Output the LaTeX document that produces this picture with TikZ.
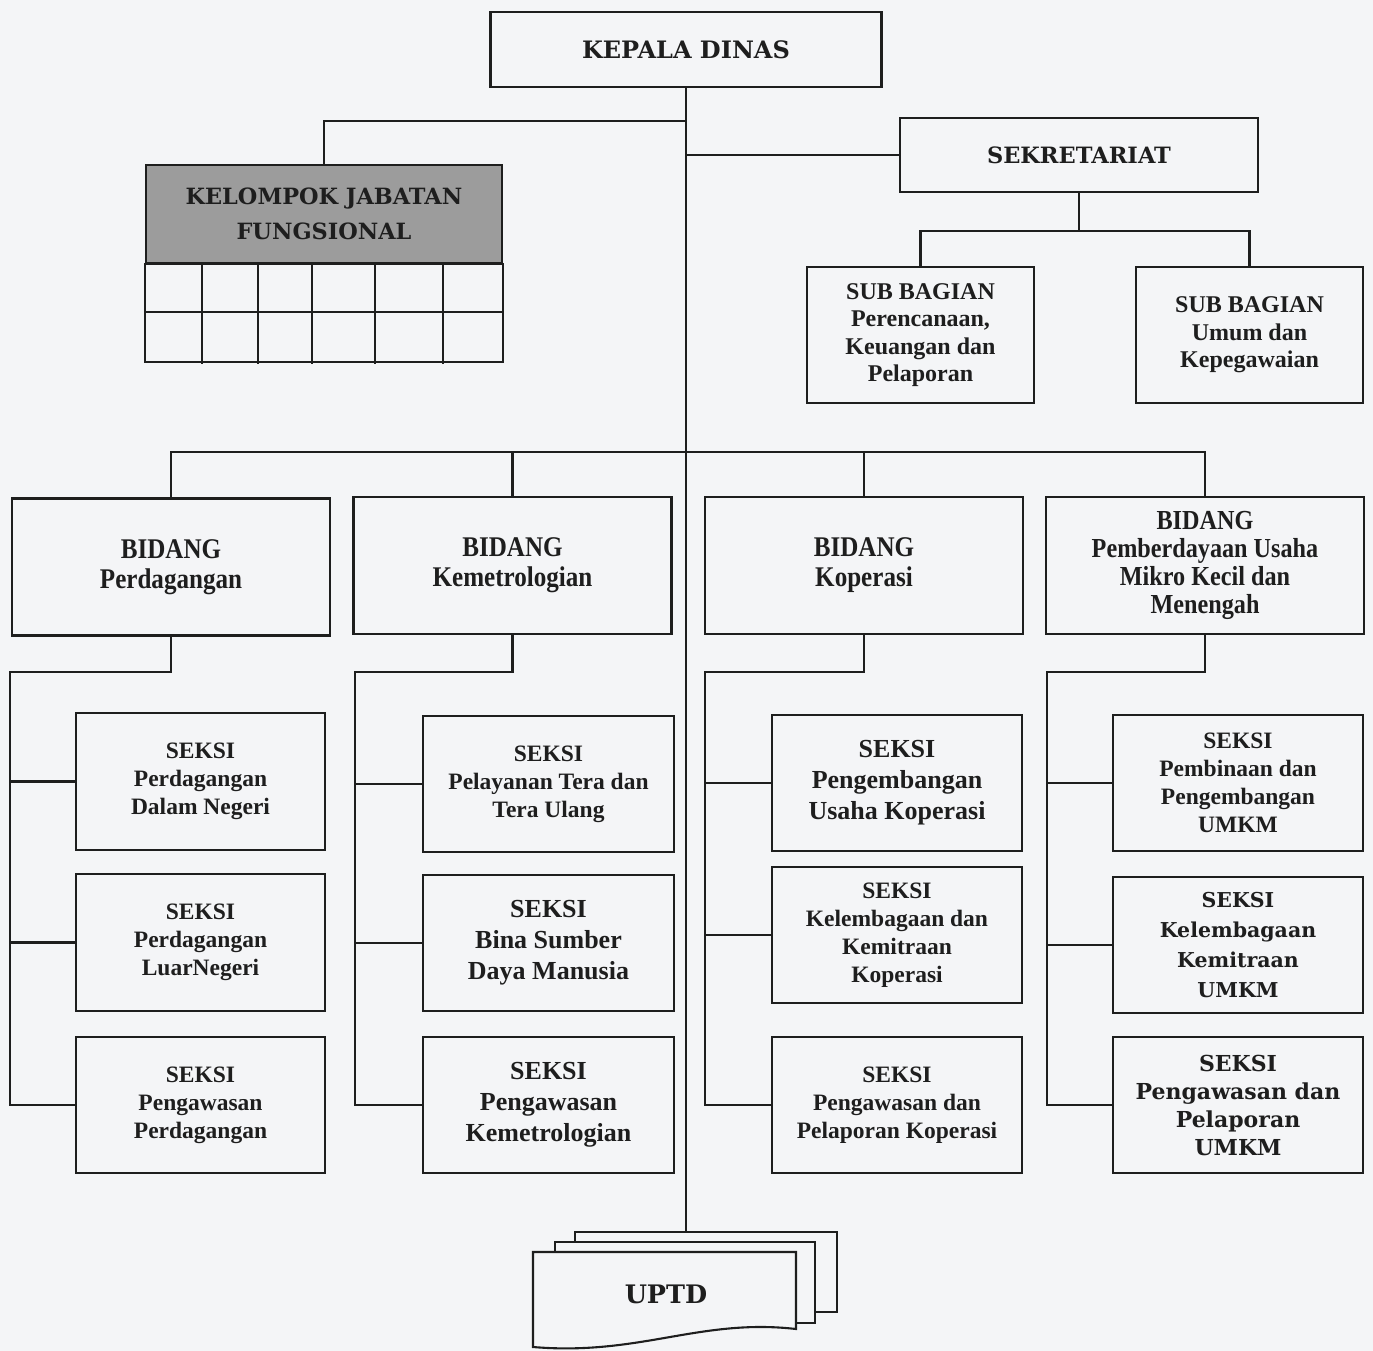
\documentclass[tikz,border=0pt]{standalone}
\usepackage{fontspec}
\setmainfont{Liberation Serif}
\newfontfamily\bookfont{DejaVu Serif}
\newfontfamily\narrowfont{Liberation Serif}[FakeStretch=0.88]
\usetikzlibrary{positioning}

\definecolor{paper}{HTML}{F4F5F7}
\definecolor{ink}{HTML}{1E1E1E}
\definecolor{kjfgray}{HTML}{9C9C9C}

% font sets used in the chart
\newcommand{\fsek}{\fontsize{23.5}{28}\selectfont\bfseries}
\newcommand{\fsekbig}{\fontsize{26}{31}\selectfont\bfseries}
\newcommand{\fsub}{\fontsize{24}{27.5}\selectfont\bfseries}
\newcommand{\fbid}{\narrowfont\fontsize{28.5}{30}\selectfont\bfseries}
\newcommand{\fbidsmall}{\narrowfont\fontsize{27.5}{28}\selectfont\bfseries}
\newcommand{\fbook}{\bookfont\fontsize{20.5}{30}\selectfont\bfseries}
\newcommand{\fbookbig}{\bookfont\fontsize{22}{28}\selectfont\bfseries}
\newcommand{\fsekre}{\bookfont\fontsize{22.5}{30}\selectfont\bfseries}
\newcommand{\fhead}{\bookfont\fontsize{24}{30}\selectfont\bfseries}
\newcommand{\fuptd}{\bookfont\fontsize{25.5}{30}\selectfont\bfseries}
\newcommand{\fkjf}{\bookfont\fontsize{22.4}{35}\selectfont\bfseries}

\begin{document}
\begin{tikzpicture}[
  x=1pt, y=-1pt,
  box/.style={draw=ink, line width=2.3pt, inner sep=0pt, align=center, text=ink},
  conn/.style={draw=ink, line width=2.1pt},
  bidang/.style={box, minimum width=318pt, minimum height=137pt, font=\fbid},
  seksi/.style={box, minimum width=250pt, minimum height=136pt, font=\fsek},
  subbag/.style={box, minimum width=227pt, minimum height=136pt, font=\fsub}
]
  \useasboundingbox (0,0) rectangle (1373,1351);
  \fill[paper] (0,0) rectangle (1373,1351);

  % top level
  \node[box, minimum width=391pt, minimum height=75pt, font=\fhead] (kadis) at (686,49.5) {KEPALA DINAS};
  \node[box, minimum width=358pt, minimum height=74pt, font=\fsekre] (sekre) at (1079,155) {SEKRETARIAT};
  \node[subbag] (sub1) at (920.5,335) {SUB BAGIAN\\Perencanaan,\\Keuangan dan\\Pelaporan};
  \node[subbag] (sub2) at (1249.5,335) {SUB BAGIAN\\Umum dan\\Kepegawaian};

  % kelompok jabatan fungsional
  \node[box, fill=kjfgray, minimum width=356pt, minimum height=98pt, font=\fkjf] (kjf) at (324,214) {KELOMPOK JABATAN\\FUNGSIONAL};
  \draw[conn] (kjf.south west) rectangle (kjf.south east |- 0,362);
  \draw[conn] (kjf.south west |- 0,312) -- (kjf.south east |- 0,312);
  \foreach \gx in {202,258,312,375,443}
    \draw[conn] (\gx,263) -- (\gx,364);

  % bidang
  \node[bidang] (bid1) at (171,567) {BIDANG\\Perdagangan};
  \node[bidang] (bid2) at (512.5,565.5) {BIDANG\\Kemetrologian};
  \node[bidang] (bid3) at (864,565.5) {BIDANG\\Koperasi};
  \node[bidang, font=\fbidsmall] (bid4) at (1205,565.5) {BIDANG\\Pemberdayaan Usaha\\Mikro Kecil dan\\Menengah};

  % seksi
  \node[seksi, minimum width=249pt, minimum height=137pt] (s11) at (200.5,781.5) {SEKSI\\Perdagangan\\Dalam Negeri};
  \node[seksi, minimum width=249pt, minimum height=137pt] (s12) at (200.5,942.5) {SEKSI\\Perdagangan\\LuarNegeri};
  \node[seksi, minimum width=249pt] (s13) at (200.5,1105) {SEKSI\\Pengawasan\\Perdagangan};

  \node[seksi, minimum width=251pt] (s21) at (548.5,784) {SEKSI\\Pelayanan Tera dan\\Tera Ulang};
  \node[seksi, minimum width=251pt, font=\fsekbig] (s22) at (548.5,943) {SEKSI\\Bina Sumber\\Daya Manusia};
  \node[seksi, minimum width=251pt, font=\fsekbig] (s23) at (548.5,1105) {SEKSI\\Pengawasan\\Kemetrologian};

  \node[seksi, font=\fsekbig] (s31) at (897,783) {SEKSI\\Pengembangan\\Usaha Koperasi};
  \node[seksi] (s32) at (897,935) {SEKSI\\Kelembagaan dan\\Kemitraan\\Koperasi};
  \node[seksi] (s33) at (897,1105) {SEKSI\\Pengawasan dan\\Pelaporan Koperasi};

  \node[seksi] (s41) at (1238,783) {SEKSI\\Pembinaan dan\\Pengembangan\\UMKM};
  \node[seksi, font=\fbook] (s42) at (1238,945) {SEKSI\\Kelembagaan\\Kemitraan\\UMKM};
  \node[seksi, font=\fbookbig] (s43) at (1238,1105) {SEKSI\\Pengawasan dan\\Pelaporan\\UMKM};

  % uptd sheets
  \draw[conn, fill=paper] (575,1232) -- (837,1232) -- (837,1312) -- (575,1312) -- cycle;
  \draw[conn, fill=paper] (555,1242) -- (815,1242) -- (815,1323) -- (555,1323) -- cycle;
  \draw[conn, fill=paper] (533,1252) -- (796,1252) -- (796,1329)
    .. controls (700,1318) and (640,1356) .. (533,1347) -- cycle;
  \node[font=\fuptd, text=ink] (uptd) at (666,1294) {UPTD};

  % connectors
  \coordinate (uptop) at (686,1232);
  \coordinate (jt) at (686,121);
  \coordinate (bus) at (686,452);
  \draw[conn] (kadis.south) -- (uptop);
  \draw[conn] (jt) -| (kjf.north);
  \draw[conn] (kadis.south |- sekre.west) -- (sekre.west);
  \draw[conn] (sekre.south) -- ++(0,38) coordinate (sb);
  \draw[conn] (sub1.north) |- (sb) -| (sub2.north);

  \draw[conn] (bid1.north) |- (bus) -| (bid4.north);
  \draw[conn] (bid2.north) -- (bid2.north |- bus);
  \draw[conn] (bid3.north) -- (bid3.north |- bus);

  \foreach \c/\sx in {1/10,2/355,3/705,4/1047} {
    \coordinate (sp\c) at (\sx,672);
    \draw[conn] (bid\c.south) |- (sp\c) |- (s\c3.west);
    \draw[conn] (sp\c |- s\c1.west) -- (s\c1.west);
    \draw[conn] (sp\c |- s\c2.west) -- (s\c2.west);
  }
\end{tikzpicture}
\end{document}
